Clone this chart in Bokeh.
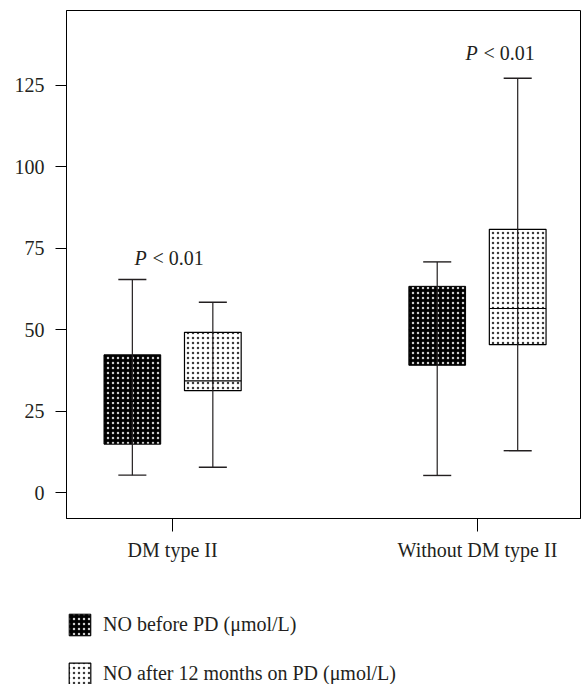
from bokeh.plotting import figure
from bokeh.layouts import column
from bokeh.models import ColumnDataSource, FixedTicker, Legend, LegendItem, Label, Range1d
from bokeh.embed import file_html
from bokeh.resources import INLINE

# ---------------- data ----------------
categories = ["DM type II", "Without DM type II"]
series_names = ["NO before PD (\u03bcmol/L)", "NO after 12 months on PD (\u03bcmol/L)"]

before_low = [5.4, 5.3]
before_q1 = [14.9, 39.1]
before_median = [28.0, 50.0]
before_q3 = [42.3, 63.3]
before_high = [65.4, 70.8]

after_low = [7.8, 12.9]
after_q1 = [31.3, 45.4]
after_median = [34.3, 56.5]
after_q3 = [49.2, 80.8]
after_high = [58.4, 127.1]

y_ticks = [0, 25, 50, 75, 100, 125]
p_texts = ["< 0.01", "< 0.01"]

# ---------------- layout constants ----------------
FONT = "Liberation Serif"
TXT = "#231f20"
cat_x = list(range(len(categories)))
offset = 0.132
box_half = 0.093
cap_half = 0.046
p_dx = [-0.125, -0.039]
p_y = [72.1, 135.0]

BEFORE_STYLE = dict(fill_color="black", hatch_pattern="dot", hatch_color="#cccccc",
                    hatch_scale=5, hatch_weight=0.7, line_color="black", line_width=1)
AFTER_STYLE = dict(fill_color="white", hatch_pattern="dot", hatch_color="#3a3a3a",
                   hatch_scale=5, hatch_weight=0.7, line_color="black", line_width=1.2)


def make_source(xc, low, q1, med, q3, high):
    return ColumnDataSource(dict(
        x=xc,
        left=[v - box_half for v in xc],
        right=[v + box_half for v in xc],
        cap_l=[v - cap_half for v in xc],
        cap_r=[v + cap_half for v in xc],
        low=low, q1=q1, median=med, q3=q3, high=high,
    ))


src_before = make_source([c - offset for c in cat_x], before_low, before_q1,
                         before_median, before_q3, before_high)
src_after = make_source([c + offset for c in cat_x], after_low, after_q1,
                        after_median, after_q3, after_high)

x_range = Range1d(-0.348, 1.338)

p = figure(width=583, height=580,
           x_range=x_range, y_range=Range1d(-7.9, 147.9),
           output_backend="svg", toolbar_location=None,
           min_border_left=66, min_border_right=3, min_border_top=10, min_border_bottom=62)

p.background_fill_color = "white"
p.border_fill_color = "white"
p.outline_line_color = "black"
p.outline_line_width = 1
p.xgrid.visible = False
p.ygrid.visible = False

# boxes
p.quad(left="left", right="right", bottom="q1", top="q3", source=src_before, **BEFORE_STYLE)
p.quad(left="left", right="right", bottom="q1", top="q3", source=src_after, **AFTER_STYLE)

for src in (src_before, src_after):
    p.segment(x0="x", y0="low", x1="x", y1="high", source=src, line_color="#231f20", line_width=1.2)
    p.segment(x0="cap_l", y0="high", x1="cap_r", y1="high", source=src, line_color="#231f20", line_width=1.4)
    p.segment(x0="cap_l", y0="low", x1="cap_r", y1="low", source=src, line_color="#231f20", line_width=1.4)
    p.segment(x0="left", y0="median", x1="right", y1="median", source=src, line_color="black", line_width=1.2)

# axes
p.yaxis.ticker = FixedTicker(ticks=y_ticks)
p.yaxis.minor_tick_line_color = None
p.yaxis.major_tick_out = 11
p.yaxis.major_tick_in = 0
p.yaxis.major_label_standoff = 11
p.yaxis.axis_line_color = "black"
p.yaxis.major_tick_line_color = "black"
p.yaxis.major_label_text_font = FONT
p.yaxis.major_label_text_font_size = "20px"
p.yaxis.major_label_text_color = TXT

p.xaxis.ticker = FixedTicker(ticks=cat_x)
p.xaxis.major_label_overrides = {i: c for i, c in zip(cat_x, categories)}
p.xaxis.minor_tick_line_color = None
p.xaxis.major_tick_out = 13
p.xaxis.major_tick_in = 0
p.xaxis.major_label_standoff = 7
p.xaxis.axis_line_color = "black"
p.xaxis.major_tick_line_color = "black"
p.xaxis.major_label_text_font = FONT
p.xaxis.major_label_text_font_size = "20px"
p.xaxis.major_label_text_color = TXT

# p-value annotations
for i in range(len(categories)):
    p.add_layout(Label(x=cat_x[i] + p_dx[i], y=p_y[i], text="P", text_font=FONT,
                       text_font_style="italic", text_font_size="20px", text_color=TXT,
                       text_baseline="alphabetic", text_align="left"))
    p.add_layout(Label(x=cat_x[i] + p_dx[i], y=p_y[i], x_offset=18, text=p_texts[i], text_font=FONT,
                       text_font_size="20px", text_color=TXT,
                       text_baseline="alphabetic", text_align="left"))

# legend panel: same sources, drawn in a view range that keeps the boxes off-screen
lg = figure(width=583, height=104, x_range=x_range, y_range=Range1d(1000, 1001),
            output_backend="svg", toolbar_location=None,
            x_axis_location=None, y_axis_location=None,
            min_border_left=62, min_border_right=0, min_border_top=31, min_border_bottom=0)
lg.outline_line_color = None
lg.xgrid.visible = False
lg.ygrid.visible = False
lg.background_fill_color = "white"
lg.border_fill_color = "white"
lr_before = lg.quad(left="left", right="right", bottom="q1", top="q3", source=src_before, **BEFORE_STYLE)
lr_after = lg.quad(left="left", right="right", bottom="q1", top="q3", source=src_after, **AFTER_STYLE)

legend = Legend(items=[LegendItem(label=series_names[0], renderers=[lr_before]),
                       LegendItem(label=series_names[1], renderers=[lr_after])],
                location="top_left", orientation="vertical",
                glyph_width=27, glyph_height=27, label_standoff=10, spacing=22,
                padding=0, margin=0, border_line_color=None, background_fill_alpha=0,
                label_text_font=FONT, label_text_font_size="20px", label_text_color=TXT)
lg.add_layout(legend, "center")

layout = column(p, lg, spacing=0)
open("out.html", "w").write(file_html(layout, INLINE))
